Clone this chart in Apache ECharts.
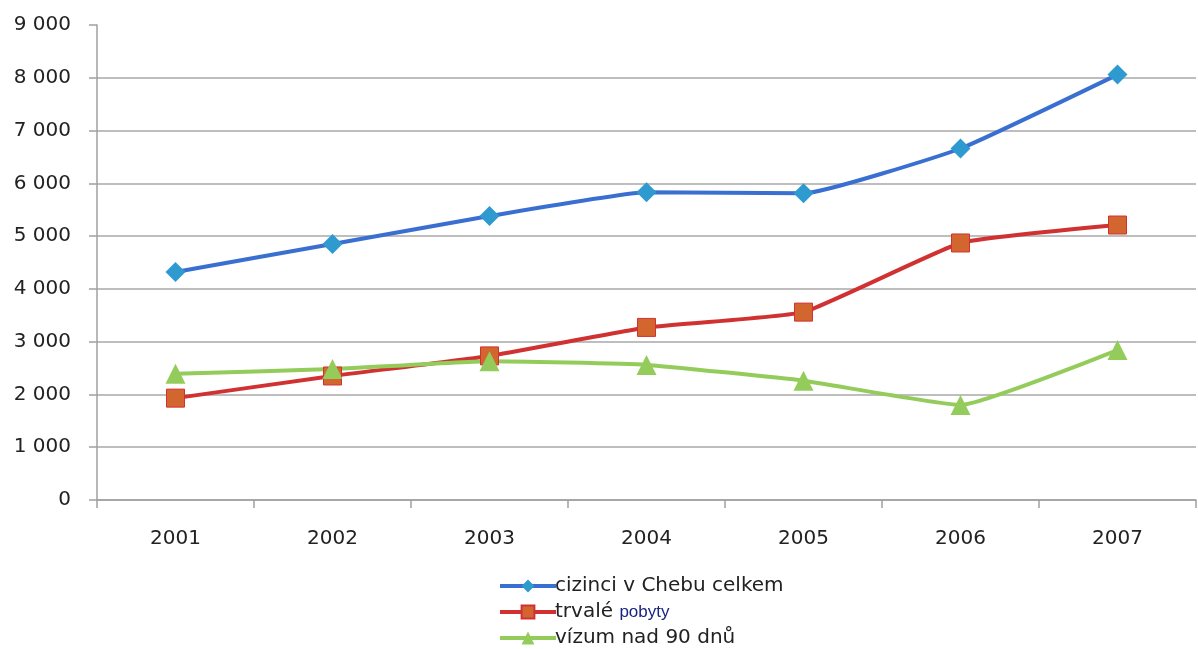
<!DOCTYPE html>
<html>
<head>
<meta charset="utf-8">
<script src="https://cdn.jsdelivr.net/npm/echarts@6/dist/echarts.min.js"></script>
<style>
  html, body { margin: 0; padding: 0; background: #fff; }
  #chart { width: 1198px; height: 649px; }
</style>
</head>
<body>
<div id="chart"></div>
<script>
const years = ['2001', '2002', '2003', '2004', '2005', '2006', '2007']
const cizinci = [4320, 4850, 5380, 5830, 5810, 6660, 8060]
const trvale = [1930, 2350, 2730, 3270, 3560, 4870, 5210]
const vizum = [2390, 2480, 2630, 2560, 2260, 1800, 2840]

const chart = echarts.init(document.getElementById('chart'))

const fmt = v => String(v).replace(/\B(?=(\d{3})+(?!\d))/g, ' ')

chart.setOption({
  animation: false,
  textStyle: { fontFamily: '"DejaVu Sans", sans-serif' },
  grid: { left: 97, right: 2, top: 25, bottom: 149 },
  legend: {
    orient: 'vertical',
    left: 498,
    top: 575,
    height: 80,
    padding: 0,
    itemWidth: 56,
    itemHeight: 16,
    itemGap: 4,
    lineStyle: { width: 4 },
    textStyle: {
      fontSize: 20,
      lineHeight: 22,
      color: '#222',
      padding: [0, 0, 0, -6],
      rich: {
        b: { fontSize: 17, lineHeight: 22, color: '#1a237e', fontFamily: '"Liberation Sans", sans-serif' }
      }
    },
    formatter: name => name === 'trvalé pobyty' ? 'trvalé {b|pobyty}' : name,
    data: ['cizinci v Chebu celkem', 'trvalé pobyty', 'vízum nad 90 dnů']
  },
  xAxis: {
    type: 'category',
    data: years,
    boundaryGap: true,
    axisLine: { lineStyle: { color: '#a0a0a0', width: 1.5 } },
    axisTick: { show: true, length: 8, lineStyle: { color: '#a0a0a0', width: 1.5 } },
    axisLabel: { fontSize: 20, color: '#222', margin: 29 }
  },
  yAxis: {
    type: 'value',
    min: 0,
    max: 9000,
    interval: 1000,
    axisLine: { show: true, lineStyle: { color: '#a0a0a0', width: 1.5 } },
    axisTick: { show: true, inside: false, length: 8, lineStyle: { color: '#a0a0a0', width: 1.5 } },
    splitLine: { showMaxLine: false, lineStyle: { color: '#a8a8a8', width: 1.5 } },
    axisLabel: { fontSize: 20, color: '#222', margin: 26, formatter: fmt }
  },
  series: [
    {
      name: 'cizinci v Chebu celkem',
      type: 'line',
      data: cizinci,
      smooth: 0.12,
      symbol: 'diamond',
      symbolSize: 20,
      lineStyle: { color: '#3a6fd2', width: 4 },
      itemStyle: { color: '#2e9ad0', borderWidth: 0 }
    },
    {
      name: 'trvalé pobyty',
      type: 'line',
      data: trvale,
      smooth: 0.12,
      symbol: 'rect',
      symbolSize: 18,
      lineStyle: { color: '#d03232', width: 4 },
      itemStyle: { color: '#d2662e', borderColor: '#d03232', borderWidth: 1 }
    },
    {
      name: 'vízum nad 90 dnů',
      type: 'line',
      data: vizum,
      smooth: 0.12,
      symbol: 'triangle',
      symbolSize: 20,
      lineStyle: { color: '#94cc5c', width: 4 },
      itemStyle: { color: '#94cc5c', borderWidth: 0 }
    }
  ]
})
</script>
</body>
</html>
